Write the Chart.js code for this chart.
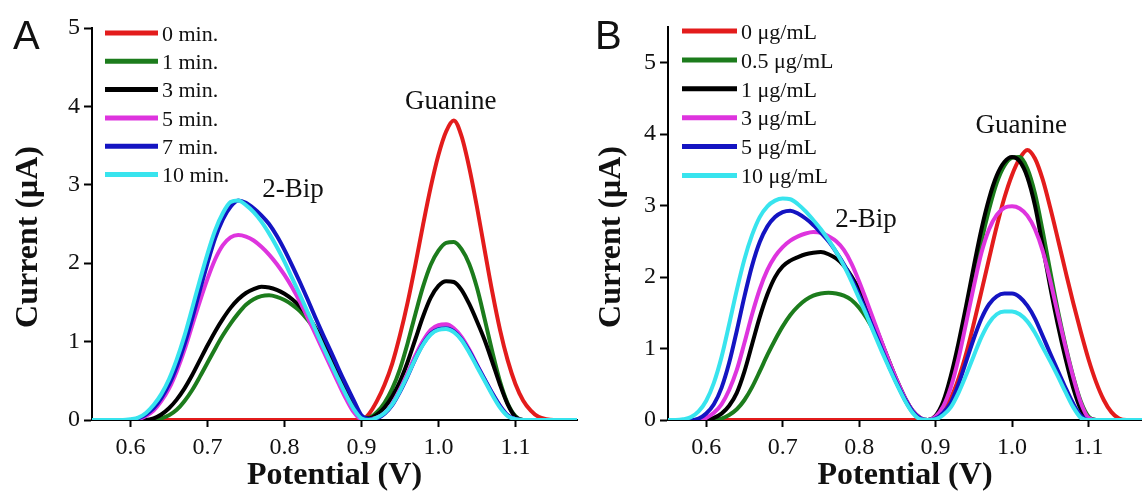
<!DOCTYPE html>
<html>
<head>
<meta charset="utf-8">
<title>DPV peaks: 2-Bip and guanine</title>
<script src="https://cdn.jsdelivr.net/npm/chart.js@4.4.1"></script>
<style>
    html, body {
        margin: 0;
        padding: 0;
        background: #fff;
    }
    #wrap {
        position: relative;
        width: 1142px;
        height: 495px;
        overflow: hidden;
    }
    .panel {
        position: absolute;
        top: 0;
        height: 495px;
    }
    #panelA { left: 0; width: 580px; }
    #panelB { left: 580px; width: 562px; }
</style>
</head>
<body>
<div id="wrap">
    <div class="panel" id="panelA"><canvas id="chartA"></canvas></div>
    <div class="panel" id="panelB"><canvas id="chartB"></canvas></div>
</div>
<script>
// potential (V), shared by every curve
const potential = [
    0.55, 0.56, 0.57, 0.58, 0.59, 0.60, 0.61, 0.62, 0.63, 0.64,
    0.65, 0.66, 0.67, 0.68, 0.69, 0.70, 0.71, 0.72, 0.73, 0.74,
    0.75, 0.76, 0.77, 0.78, 0.79, 0.80, 0.81, 0.82, 0.83, 0.84,
    0.85, 0.86, 0.87, 0.88, 0.89, 0.90, 0.91, 0.92, 0.93, 0.94,
    0.95, 0.96, 0.97, 0.98, 0.99, 1.00, 1.01, 1.02, 1.03, 1.04,
    1.05, 1.06, 1.07, 1.08, 1.09, 1.10, 1.11, 1.12, 1.13, 1.14,
    1.15, 1.16, 1.17, 1.18
];

const colors = ['#e31c1c', '#1c7c1c', '#000000', '#de34de', '#1414c2', '#38e4ee'];

// A: incubation time
const labelsA = ['0 min.', '1 min.', '3 min.', '5 min.', '7 min.', '10 min.'];
const min0 = [
    0, 0, 0, 0, 0, 0, 0, 0, 0, 0,
    0, 0, 0, 0, 0, 0, 0, 0, 0, 0,
    0, 0, 0, 0, 0, 0, 0, 0, 0, 0,
    0, 0, 0, 0, 0, 0, 0.08, 0.24, 0.45, 0.72,
    1.08, 1.50, 1.98, 2.49, 2.97, 3.38, 3.68, 3.82, 3.62, 3.22,
    2.72, 2.17, 1.63, 1.15, 0.76, 0.46, 0.25, 0.12, 0.04, 0.01,
    0, 0, 0, 0
];
const min1 = [
    0, 0, 0, 0, 0, 0, 0, 0, 0, 0.02,
    0.06, 0.13, 0.24, 0.38, 0.55, 0.73, 0.91, 1.08, 1.23, 1.36,
    1.47, 1.54, 1.58, 1.59, 1.57, 1.53, 1.47, 1.39, 1.28, 1.15,
    0.99, 0.80, 0.59, 0.38, 0.19, 0.03, 0.03, 0.10, 0.22, 0.40,
    0.65, 0.98, 1.35, 1.70, 1.98, 2.16, 2.26, 2.27, 2.18, 1.99,
    1.69, 1.29, 0.87, 0.49, 0.21, 0.05, 0, 0, 0, 0,
    0, 0, 0, 0
];
const min3 = [
    0, 0, 0, 0, 0, 0, 0, 0, 0.02, 0.07,
    0.15, 0.26, 0.40, 0.57, 0.76, 0.95, 1.13, 1.29, 1.43, 1.54,
    1.62, 1.67, 1.70, 1.69, 1.66, 1.61, 1.54, 1.45, 1.33, 1.18,
    1.00, 0.80, 0.59, 0.38, 0.19, 0.03, 0.02, 0.07, 0.16, 0.30,
    0.49, 0.74, 1.03, 1.32, 1.56, 1.71, 1.77, 1.76, 1.66, 1.48,
    1.26, 1.02, 0.74, 0.45, 0.20, 0.04, 0, 0, 0, 0,
    0, 0, 0, 0
];
const min5 = [
    0, 0, 0, 0, 0, 0, 0.01, 0.05, 0.12, 0.24,
    0.40, 0.62, 0.89, 1.20, 1.51, 1.80, 2.05, 2.23, 2.33, 2.36,
    2.34, 2.29, 2.21, 2.11, 1.99, 1.85, 1.69, 1.51, 1.31, 1.10,
    0.89, 0.68, 0.47, 0.27, 0.10, 0.01, 0.01, 0.03, 0.09, 0.21,
    0.39, 0.60, 0.82, 1.01, 1.15, 1.21, 1.22, 1.17, 1.06, 0.90,
    0.71, 0.52, 0.34, 0.18, 0.06, 0.01, 0, 0, 0, 0,
    0, 0, 0, 0
];
const min7 = [
    0, 0, 0, 0, 0, 0, 0.02, 0.07, 0.15, 0.28,
    0.45, 0.68, 0.96, 1.29, 1.65, 2.00, 2.32, 2.56, 2.72, 2.80,
    2.77, 2.70, 2.61, 2.50, 2.35, 2.17, 1.97, 1.76, 1.54, 1.31,
    1.09, 0.88, 0.66, 0.45, 0.25, 0.06, 0.01, 0.02, 0.08, 0.19,
    0.36, 0.56, 0.78, 0.97, 1.10, 1.16, 1.17, 1.13, 1.03, 0.88,
    0.70, 0.52, 0.34, 0.18, 0.06, 0.01, 0, 0, 0, 0,
    0, 0, 0, 0
];
const min10 = [
    0, 0, 0, 0, 0, 0.01, 0.03, 0.09, 0.19, 0.33,
    0.52, 0.77, 1.07, 1.42, 1.78, 2.12, 2.42, 2.64, 2.78, 2.80,
    2.74, 2.65, 2.53, 2.38, 2.21, 2.02, 1.81, 1.60, 1.38, 1.16,
    0.94, 0.73, 0.52, 0.32, 0.14, 0.02, 0, 0.03, 0.09, 0.20,
    0.37, 0.57, 0.78, 0.96, 1.09, 1.15, 1.16, 1.12, 1.02, 0.86,
    0.68, 0.50, 0.32, 0.16, 0.05, 0.01, 0, 0, 0, 0,
    0, 0, 0, 0
];

// B: 2-Bip concentration
const labelsB = ['0 μg/mL', '0.5 μg/mL', '1 μg/mL', '3 μg/mL', '5 μg/mL', '10 μg/mL'];
const conc0 = [
    0, 0, 0, 0, 0, 0, 0, 0, 0, 0,
    0, 0, 0, 0, 0, 0, 0, 0, 0, 0,
    0, 0, 0, 0, 0, 0, 0, 0, 0, 0,
    0, 0, 0, 0, 0, 0.03, 0.13, 0.31, 0.58, 0.93,
    1.35, 1.80, 2.26, 2.71, 3.11, 3.43, 3.66, 3.78, 3.66, 3.37,
    2.97, 2.53, 2.08, 1.64, 1.23, 0.85, 0.53, 0.28, 0.11, 0.02,
    0, 0, 0, 0
];
const conc05 = [
    0, 0, 0, 0, 0, 0, 0, 0.02, 0.07, 0.15,
    0.28, 0.46, 0.68, 0.91, 1.12, 1.31, 1.47, 1.59, 1.68, 1.74,
    1.77, 1.78, 1.77, 1.74, 1.68, 1.57, 1.42, 1.23, 1.00, 0.75,
    0.50, 0.28, 0.11, 0.02, 0, 0.04, 0.19, 0.50, 0.93, 1.42,
    1.97, 2.50, 2.95, 3.32, 3.56, 3.67, 3.68, 3.52, 3.17, 2.65,
    2.08, 1.53, 1.04, 0.61, 0.26, 0.05, 0, 0, 0, 0,
    0, 0, 0, 0
];
const conc1 = [
    0, 0, 0, 0, 0, 0, 0.03, 0.09, 0.20, 0.38,
    0.68, 1.06, 1.44, 1.76, 2.00, 2.15, 2.23, 2.28, 2.32, 2.34,
    2.35, 2.32, 2.26, 2.16, 2.01, 1.82, 1.59, 1.34, 1.07, 0.80,
    0.54, 0.31, 0.13, 0.03, 0, 0.06, 0.26, 0.62, 1.08, 1.60,
    2.15, 2.67, 3.10, 3.42, 3.61, 3.68, 3.62, 3.40, 3.00, 2.44,
    1.86, 1.33, 0.86, 0.45, 0.15, 0.01, 0, 0, 0, 0,
    0, 0, 0, 0
];
const conc3 = [
    0, 0, 0, 0, 0, 0.03, 0.10, 0.22, 0.42, 0.70,
    1.08, 1.48, 1.83, 2.10, 2.29, 2.42, 2.51, 2.57, 2.61, 2.63,
    2.62, 2.57, 2.50, 2.38, 2.19, 1.94, 1.66, 1.37, 1.08, 0.80,
    0.54, 0.31, 0.13, 0.03, 0, 0.05, 0.19, 0.46, 0.86, 1.36,
    1.87, 2.34, 2.67, 2.87, 2.97, 2.99, 2.96, 2.86, 2.67, 2.37,
    1.95, 1.48, 1.02, 0.60, 0.24, 0.03, 0, 0, 0, 0,
    0, 0, 0, 0
];
const conc5 = [
    0, 0, 0, 0, 0.02, 0.09, 0.22, 0.45, 0.80, 1.25,
    1.73, 2.16, 2.49, 2.71, 2.84, 2.91, 2.93, 2.89, 2.82, 2.73,
    2.62, 2.50, 2.35, 2.18, 1.98, 1.75, 1.50, 1.24, 0.98, 0.73,
    0.50, 0.29, 0.12, 0.02, 0, 0.02, 0.10, 0.24, 0.50, 0.82,
    1.14, 1.42, 1.62, 1.73, 1.77, 1.77, 1.72, 1.60, 1.42, 1.18,
    0.93, 0.69, 0.45, 0.23, 0.06, 0, 0, 0, 0, 0,
    0, 0, 0, 0
];
const conc10 = [
    0, 0, 0.01, 0.04, 0.12, 0.27, 0.52, 0.88, 1.34, 1.82,
    2.25, 2.59, 2.84, 2.99, 3.07, 3.10, 3.09, 3.02, 2.92, 2.80,
    2.67, 2.52, 2.35, 2.16, 1.94, 1.70, 1.46, 1.20, 0.95, 0.71,
    0.48, 0.27, 0.10, 0.01, 0, 0.01, 0.07, 0.18, 0.38, 0.63,
    0.90, 1.16, 1.36, 1.48, 1.52, 1.52, 1.48, 1.38, 1.22, 1.02,
    0.82, 0.61, 0.39, 0.18, 0.03, 0, 0, 0, 0, 0,
    0, 0, 0, 0
];

const serif = '"Liberation Serif", "Times New Roman", serif';

function makeDatasets(labels, series) {
    return labels.map((label, i) => ({
        label,
        data: potential.map((x, j) => ({x, y: series[i][j]})),
        borderColor: colors[i],
        backgroundColor: colors[i],
        borderWidth: 4,
        pointRadius: 0,
        fill: false,
        cubicInterpolationMode: 'monotone',
        // later curves sit on top of earlier ones
        order: labels.length - i
    }));
}

// legend, peak names, panel letter and y title drawn straight on the canvas
const panelDecor = {
    id: 'panelDecor',
    afterDatasetsDraw(chart, args, opts) {
        const {ctx, chartArea: area} = chart;
        const xs = chart.scales.x, ys = chart.scales.y;
        ctx.save();

        ctx.font = '22px ' + serif;
        ctx.textBaseline = 'middle';
        ctx.textAlign = 'left';
        chart.data.datasets.forEach((ds, i) => {
            const y = area.top + opts.legend.top + i * opts.legend.gap;
            const x0 = area.left + opts.legend.left;
            ctx.strokeStyle = ds.borderColor;
            ctx.lineWidth = 5;
            ctx.beginPath();
            ctx.moveTo(x0, y);
            ctx.lineTo(x0 + opts.legend.len, y);
            ctx.stroke();
            ctx.fillStyle = '#111';
            ctx.fillText(ds.label, x0 + opts.legend.len + 4, y + 2);
        });

        ctx.font = '27px ' + serif;
        ctx.textAlign = 'center';
        opts.peaks.forEach(p => {
            ctx.fillText(p.text, xs.getPixelForValue(p.x), ys.getPixelForValue(p.y));
        });

        ctx.textAlign = 'left';
        ctx.textBaseline = 'alphabetic';
        ctx.font = '40px "Liberation Sans", Arial, sans-serif';
        ctx.fillText(opts.letter, opts.letterX, 49);

        ctx.translate(opts.titleX, 237);
        ctx.rotate(-Math.PI / 2);
        ctx.font = 'bold 32px ' + serif;
        ctx.textAlign = 'center';
        ctx.textBaseline = 'middle';
        ctx.fillText('Current (μA)', 0, 0);
        ctx.restore();
    }
};

function makeChart(canvasId, labels, series, cfg) {
    return new Chart(document.getElementById(canvasId), {
        type: 'line',
        data: {datasets: makeDatasets(labels, series)},
        options: {
            responsive: true,
            maintainAspectRatio: false,
            animation: false,
            events: [],
            layout: {padding: {left: 0, top: cfg.top, right: cfg.right, bottom: 0}},
            plugins: {
                legend: {display: false},
                tooltip: {enabled: false},
                panelDecor: cfg.decor
            },
            scales: {
                x: {
                    type: 'linear',
                    min: 0.55,
                    max: cfg.xMax,
                    afterFit: s => { s.height = 75; },
                    grid: {drawOnChartArea: false, drawTicks: true, tickLength: 7, tickWidth: 2, tickColor: '#000'},
                    border: {display: true, color: '#000', width: 2},
                    ticks: {
                        stepSize: 0.1,
                        includeBounds: false,
                        maxRotation: 0,
                        padding: 6,
                        color: '#111',
                        font: {family: serif, size: 24},
                        callback: v => v.toFixed(1)
                    },
                    title: {
                        display: true,
                        text: 'Potential (V)',
                        color: '#111',
                        font: {family: serif, size: 32, weight: 'bold'},
                        padding: {top: 0, bottom: 0}
                    }
                },
                y: {
                    min: 0,
                    max: cfg.yMax,
                    afterFit: s => { s.width = cfg.yWidth; },
                    grid: {drawOnChartArea: false, drawTicks: true, tickLength: 8, tickWidth: 2, tickColor: '#000'},
                    border: {display: true, color: '#000', width: 2},
                    ticks: {
                        stepSize: 1,
                        includeBounds: false,
                        padding: 4,
                        color: '#111',
                        font: {family: serif, size: 24}
                    }
                }
            }
        },
        plugins: [panelDecor]
    });
}

makeChart('chartA', labelsA, [min0, min1, min3, min5, min7, min10], {
    top: 28, right: 3, xMax: 1.18, yMax: 5, yWidth: 92,
    decor: {
        letter: 'A', letterX: 13, titleX: 29,
        legend: {left: 13, top: 5, gap: 28.3, len: 53},
        peaks: [
            {text: '2-Bip', x: 0.811, y: 2.93},
            {text: 'Guanine', x: 1.016, y: 4.06}
        ]
    }
});

makeChart('chartB', labelsB, [conc0, conc05, conc1, conc3, conc5, conc10], {
    top: 27, right: 0, xMax: 1.17, yMax: 5.5, yWidth: 88,
    decor: {
        letter: 'B', letterX: 15, titleX: 32,
        legend: {left: 14, top: 4, gap: 28.9, len: 55},
        peaks: [
            {text: '2-Bip', x: 0.809, y: 2.80},
            {text: 'Guanine', x: 1.012, y: 4.11}
        ]
    }
});
</script>
</body>
</html>
